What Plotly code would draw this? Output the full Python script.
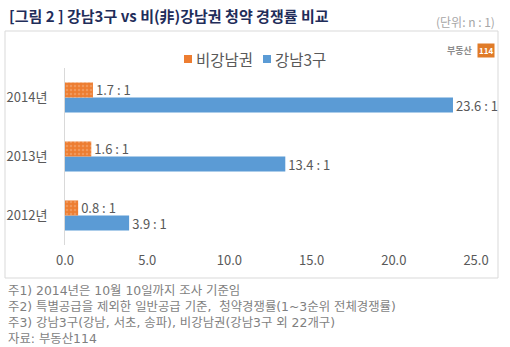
import plotly.graph_objects as go

years = ["2012년", "2013년", "2014년"]
gangnam3 = [3.9, 13.4, 23.6]
non_gangnam = [0.8, 1.6, 1.7]
x_ticks = [0, 5, 10, 15, 20, 25]
x_tick_labels = ["0.0", "5.0", "10.0", "15.0", "20.0", "25.0"]
series_names = ["비강남권", "강남3구"]
series_colors = ["#ED7D31", "#5B9BD5"]
title_text = "[그림 2 ] 강남3구 vs 비(非)강남권 청약 경쟁률 비교"
unit_text = "(단위: n : 1)"
notes = [
    "주1) 2014년은 10월 10일까지 조사 기준임",
    "주2) 특별공급을 제외한 일반공급 기준,  청약경쟁률(1~3순위 전체경쟁률)",
    "주3) 강남3구(강남, 서초, 송파), 비강남권(강남3구 외 22개구)",
    "자료: 부동산114",
]

FONT = "Noto Sans CJK KR, Noto Sans, sans-serif"
NOTE_FONT = "DejaVu Sans, Noto Sans CJK KR, sans-serif"
W, H = 510, 347
L, R, T, B = 65, 34, 68, 102
pw, ph = W - L - R, H - T - B

def px(x):
    return (x - L) / pw

def py(y):
    return (H - B - y) / ph

fig = go.Figure()
fig.add_trace(go.Bar(
    y=years, x=gangnam3, orientation="h", name=series_names[1],
    marker=dict(color=series_colors[1], line=dict(width=0)),
    text=[f"{v:.1f} : 1" for v in gangnam3], textposition="outside",
    textfont=dict(size=13, color="#595959", family=FONT),
    cliponaxis=False, constraintext="none", showlegend=False,
))
fig.add_trace(go.Bar(
    y=years, x=non_gangnam, orientation="h", name=series_names[0],
    marker=dict(color=series_colors[0], line=dict(width=0),
                pattern=dict(shape=".", fgcolor="#F4B183", bgcolor=series_colors[0], size=4, solidity=0.3)),
    text=[f"{v:.1f} : 1" for v in non_gangnam], textposition="outside",
    textfont=dict(size=13, color="#595959", family=FONT),
    cliponaxis=False, constraintext="none", showlegend=False,
))

fig.update_layout(
    width=W, height=H,
    margin=dict(l=L, r=R, t=T, b=B, pad=0),
    paper_bgcolor="white", plot_bgcolor="white",
    barmode="group", bargap=0.49, bargroupgap=0,
    font=dict(family=FONT, size=13, color="#595959"),
    showlegend=False,
    xaxis=dict(range=[0, 25], tickvals=x_ticks, ticktext=x_tick_labels,
               showgrid=False, zeroline=False, showline=False, automargin=False,
               ticks="outside", ticklen=3, tickcolor="rgba(0,0,0,0)",
               tickfont=dict(size=13, color="#595959"), fixedrange=True),
    yaxis=dict(showgrid=False, zeroline=False, showline=True, linecolor="#D9D9D9", linewidth=1,
               automargin=False,
               ticks="outside", ticklen=14, tickcolor="rgba(0,0,0,0)",
               tickfont=dict(size=13, color="#595959"), categoryorder="array", categoryarray=years),
)

shapes = []
# chart frame
shapes.append(dict(type="rect", xref="paper", yref="paper",
                   x0=px(5), x1=px(498), y0=py(278), y1=py(31),
                   line=dict(color="#D9D9D9", width=1), fillcolor="rgba(0,0,0,0)", layer="below"))

ann = []
# legend (manual)
legend_x = [188, 267]
for name, col, lx in zip(series_names, series_colors, legend_x):
    shapes.append(dict(type="rect", xref="paper", yref="paper",
                       x0=px(lx - 4), x1=px(lx + 4), y0=py(63), y1=py(55),
                       line=dict(width=0), fillcolor=col))
    ann.append(dict(text=name, x=px(lx + 6), y=py(59), xref="paper", yref="paper",
                    xanchor="left", yanchor="middle", showarrow=False,
                    font=dict(size=15.5, color="#595959", family=FONT)))

ann.append(dict(text=f"<b>{title_text}</b>", x=px(7), y=py(15), xref="paper", yref="paper",
                xanchor="left", yanchor="middle", showarrow=False,
                font=dict(size=15, color="#1F2D5A", family=FONT)))
ann.append(dict(text=unit_text, x=px(497), y=py(22), xref="paper", yref="paper",
                xanchor="right", yanchor="middle", showarrow=False,
                font=dict(size=12, color="#A6A6A6", family=FONT)))
# logo
ann.append(dict(text="<b>부동산</b>", x=px(475), y=py(50), xref="paper", yref="paper",
                xanchor="right", yanchor="middle", showarrow=False,
                font=dict(size=9, color="#8C8C8C", family=FONT)))
ann.append(dict(text="<b>114</b>", x=px(477), y=py(50), xref="paper", yref="paper",
                xanchor="left", yanchor="middle", showarrow=False, bgcolor="#E07B28",
                borderpad=1, font=dict(size=8, color="white", family=FONT)))
# footnotes
ann.append(dict(text="<br>".join(notes), x=px(6), y=py(281), xref="paper", yref="paper",
                xanchor="left", yanchor="top", align="left", showarrow=False,
                font=dict(size=12.4, color="#7F7F7F", family=NOTE_FONT)))
fig.update_layout(annotations=ann, shapes=shapes)

fig.write_html("out.html")
